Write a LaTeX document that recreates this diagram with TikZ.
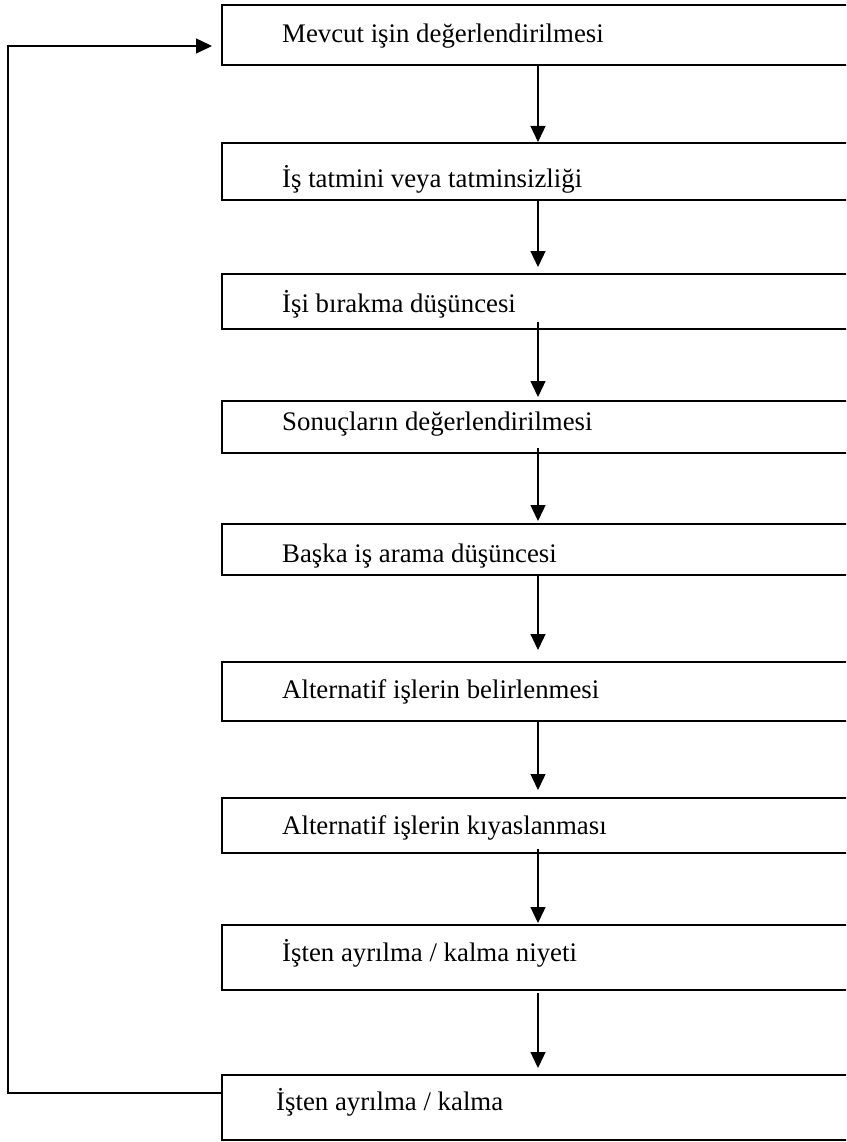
\documentclass[tikz,border=0pt]{standalone}
\usepackage{fontspec}
\setmainfont{Liberation Serif}
\usetikzlibrary{arrows.meta}

\begin{document}
\begin{tikzpicture}[x=1pt,y=-1pt,
  stage/.style={draw=black, line width=2.7pt, rectangle, inner sep=0pt, outer sep=0pt,
                anchor=north west, minimum width=660pt},
  stagetext/.style={anchor=base west, inner sep=0pt, font=\fontsize{26.8}{30}\selectfont},
  flow/.style={draw=black, line width=1.3pt, -{Triangle[length=16pt,width=15pt]}}
]
\useasboundingbox (0,0) rectangle (846,1142);
\clip (0,0) rectangle (846,1142);

% stage boxes (they run past the right edge)
\node[stage, minimum height=60pt] (b1) at (222,5) {};
\node[stage, minimum height=57pt] (b2) at (222,143) {};
\node[stage, minimum height=55pt] (b3) at (222,274) {};
\node[stage, minimum height=52pt] (b4) at (222,401) {};
\node[stage, minimum height=51pt] (b5) at (222,524) {};
\node[stage, minimum height=59pt] (b6) at (222,662) {};
\node[stage, minimum height=55pt] (b7) at (222,798) {};
\node[stage, minimum height=65pt] (b8) at (222,925) {};
\node[stage, minimum height=65pt] (b9) at (222,1075) {};

% stage labels
\node[stagetext] (t1) at (282,43)   {Mevcut işin değerlendirilmesi};
\node[stagetext] (t2) at (282,188)  {İş tatmini veya tatminsizliği};
\node[stagetext] (t3) at (282,312)  {İşi bırakma düşüncesi};
\node[stagetext] (t4) at (282,430)  {Sonuçların değerlendirilmesi};
\node[stagetext] (t5) at (282,562)  {Başka iş arama düşüncesi};
\node[stagetext] (t6) at (282,698)  {Alternatif işlerin belirlenmesi};
\node[stagetext] (t7) at (282,834)  {Alternatif işlerin kıyaslanması};
\node[stagetext] (t8) at (282,961)  {İşten ayrılma / kalma niyeti};
\node[stagetext] (t9) at (276,1110) {İşten ayrılma / kalma};

% column of the downward connectors and the return path
\coordinate (ax) at (538,0);
\coordinate (rx) at (8,0);

\draw[flow] (b1.south -| ax) -- ([yshift=1pt]b2.north -| ax);
\draw[flow] (b2.south -| ax) -- ([yshift=7pt]b3.north -| ax);
\draw[flow] ([yshift=7pt]b3.south -| ax) -- ([yshift=4pt]b4.north -| ax);
\draw[flow] ([yshift=5pt]b4.south -| ax) -- ([yshift=3pt]b5.north -| ax);
\draw[flow] (b5.south -| ax) -- ([yshift=12pt]b6.north -| ax);
\draw[flow] (b6.south -| ax) -- ([yshift=8pt]b7.north -| ax);
\draw[flow] ([yshift=4pt]b7.south -| ax) -- ([yshift=2pt]b8.north -| ax);
\draw[flow] ([yshift=-3pt]b8.south -| ax) -- ([yshift=7pt]b9.north -| ax);

% return from the last stage to the first
\coordinate (r1) at ([yshift=-18pt]b9.north west);
\coordinate (r2) at ([yshift=-41pt]b1.north west);
\draw[flow] (r1) -- (r1 -| rx) -- (r2 -| rx) -- ([xshift=-10pt]r2);
\end{tikzpicture}
\end{document}
